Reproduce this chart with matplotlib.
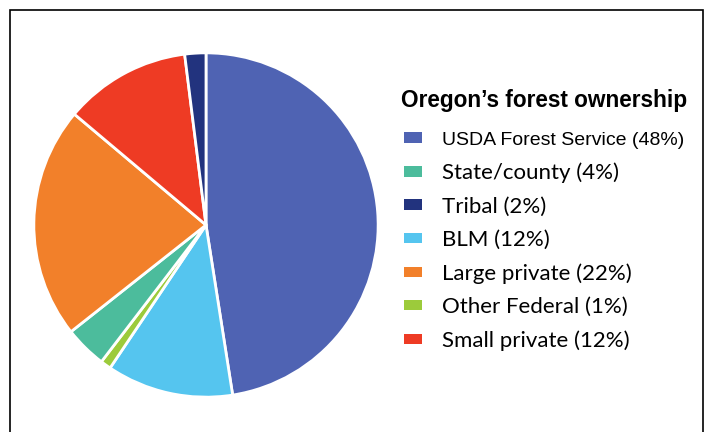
import matplotlib.pyplot as plt
from matplotlib.patches import Rectangle

# slices in the order they are drawn, clockwise from the top
slice_labels = ["USDA Forest Service", "BLM", "Other Federal", "State/county",
                "Large private", "Small private", "Tribal"]
slice_values = [48, 12, 1, 4, 22, 12, 2]
slice_colors = ["#4f63b3", "#55c5ef", "#9ccb3b", "#4cbc9c",
                "#f2802a", "#ee3b24", "#22337e"]

# legend order as printed in the chart
legend_order = ["USDA Forest Service", "State/county", "Tribal", "BLM",
                "Large private", "Other Federal", "Small private"]
title = "Oregon\u2019s forest ownership"

W, H = 709, 432
fig = plt.figure(figsize=(W / 100, H / 100), dpi=100)
fig.patch.set_facecolor("white")

# frame (bottom edge falls off the picture)
fig.patches.append(Rectangle((10 / W, -0.1), 693 / W, 1.1 - 10 / H,
                             transform=fig.transFigure, fill=False,
                             edgecolor="black", linewidth=1.2))

cx, cy, r = 206, 225, 173
ax = fig.add_axes([(cx - r) / W, (H - cy - r) / H, 2 * r / W, 2 * r / H])
wedges, _ = ax.pie(slice_values, colors=slice_colors, startangle=90,
                   counterclock=False,
                   wedgeprops=dict(edgecolor="white", linewidth=2))
ax.set_xlim(-1.005, 1.005)
ax.set_ylim(-1.005, 1.005)

handles = [wedges[slice_labels.index(n)] for n in legend_order]
labels = [f"{n} ({slice_values[slice_labels.index(n)]}%)" for n in legend_order]

fig.text(401 / W, 1 - 100 / H, title, fontsize=16.3, fontweight="bold",
         family="Liberation Sans", va="center", ha="left")

leg = fig.legend(handles, labels, loc="upper left",
                 bbox_to_anchor=(404 / W, 1 - 132 / H), frameon=False,
                 handlelength=0.8, handleheight=0.36, handletextpad=0.9,
                 labelspacing=0.6, borderpad=0, borderaxespad=0,
                 prop=dict(family="Lato", size=16))
for h in leg.legend_handles:
    h.set_edgecolor("none")
leg.get_texts()[0].set_family("Liberation Sans")
leg.get_texts()[0].set_fontsize(14)

fig.savefig("out.png", dpi=100)
